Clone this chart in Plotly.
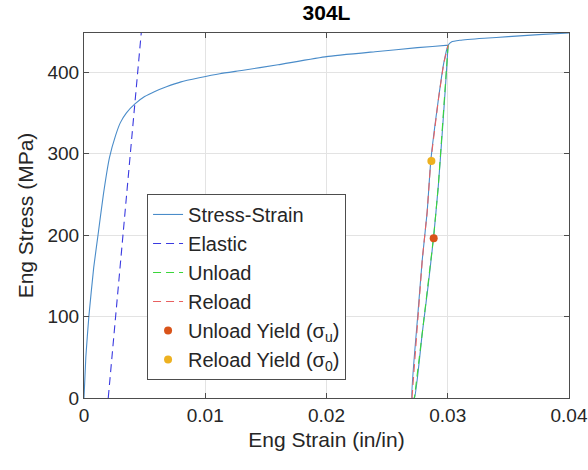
import plotly.graph_objects as go

# ---- data ----
load_strain = [0, 0.00015, 0.0004, 0.0008, 0.0012, 0.0016, 0.0021, 0.0026, 0.003,
               0.0035, 0.0042, 0.005, 0.0058, 0.0068, 0.008, 0.0095, 0.0112, 0.013,
               0.016, 0.02, 0.024, 0.0275, 0.03003]
load_stress = [0, 50, 100, 160, 205, 250, 295, 322, 338, 350, 361, 370, 376, 382,
               388, 393, 398, 402, 409, 419, 425, 430, 433]

unload_strain = [0.03003, 0.0298, 0.02952, 0.02922, 0.02885, 0.0284, 0.0279, 0.02725]
unload_stress = [433, 380, 320, 260, 200, 140, 80, 0]

reload_strain = [0.02705, 0.02752, 0.0279, 0.0283, 0.0286, 0.02926, 0.02967, 0.03003]
reload_stress = [0, 100, 170, 228, 291, 370, 411, 433]

post_strain = [0.0303, 0.031, 0.033, 0.035, 0.0375, 0.04]
post_stress = [437, 439, 441.5, 443.5, 446, 448]

elastic_strain = [0.002, 0.00472]
elastic_stress = [0, 448]

unload_yield_strain = [0.02884]
unload_yield_stress = [196]
reload_yield_strain = [0.02865]
reload_yield_stress = [291]

x_ticks = [0, 0.01, 0.02, 0.03, 0.04]
x_tick_labels = ["0", "0.01", "0.02", "0.03", "0.04"]
y_ticks = [0, 100, 200, 300, 400]
y_tick_labels = ["0", "100", "200", "300", "400"]

# full measured path: load -> unload -> reload -> continue
ss_strain = load_strain + unload_strain + reload_strain + post_strain
ss_stress = load_stress + unload_stress + reload_stress + post_stress

FONT = "Liberation Sans, Arial, Helvetica, sans-serif"
TXT = "#262626"

fig = go.Figure()
fig.add_trace(go.Scatter(x=ss_strain, y=ss_stress, mode="lines", name="Stress-Strain",
                         line=dict(color="#4a8cc9", width=1.1, shape="spline", smoothing=0.4),
                         legendgroup="a"))
fig.add_trace(go.Scatter(x=elastic_strain, y=elastic_stress, mode="lines", name="Elastic",
                         line=dict(color="#3a3ae0", width=1.1, dash="8px,5px"), legendgroup="b"))
fig.add_trace(go.Scatter(x=unload_strain, y=unload_stress, mode="lines", name="Unload",
                         line=dict(color="#3ad63a", width=1.1, dash="8px,5px"), legendgroup="c"))
fig.add_trace(go.Scatter(x=reload_strain, y=reload_stress, mode="lines", name="Reload",
                         line=dict(color="#e86060", width=1.1, dash="8px,5px"), legendgroup="d"))
fig.add_trace(go.Scatter(x=unload_yield_strain, y=unload_yield_stress, mode="markers",
                         name="Unload Yield (σ<sub>u</sub>)",
                         marker=dict(color="#D95319", size=8), legendgroup="e"))
fig.add_trace(go.Scatter(x=reload_yield_strain, y=reload_yield_stress, mode="markers",
                         name="Reload Yield (σ<sub>0</sub>)",
                         marker=dict(color="#EDB120", size=8), legendgroup="f"))

axis_common = dict(showline=True, linecolor="#4d4d4d", linewidth=1, mirror="ticks",
                   ticks="inside", ticklen=5, tickcolor="#4d4d4d",
                   showgrid=True, gridcolor="#e3e3e3", gridwidth=1, zeroline=False,
                   tickfont=dict(family=FONT, size=19, color=TXT))

fig.update_xaxes(range=[0, 0.04], tickvals=x_ticks, ticktext=x_tick_labels,
                 title=dict(text="Eng Strain (in/in)", font=dict(family=FONT, size=21, color=TXT),
                            standoff=7),
                 **axis_common)
fig.update_yaxes(range=[0, 448], tickvals=y_ticks, ticktext=y_tick_labels,
                 title=dict(text="Eng Stress (MPa)", font=dict(family=FONT, size=21, color=TXT),
                            standoff=8),
                 **axis_common)

fig.update_layout(
    width=588, height=470,
    margin=dict(l=84, r=19, t=33, b=72, autoexpand=False),
    paper_bgcolor="white", plot_bgcolor="white",
    title=dict(text="<b>304L</b>", x=(84 + 569) / 2 / 588, xanchor="center",
               y=1 - 13 / 470, yanchor="middle",
               font=dict(family=FONT, size=21, color="#000000")),
    legend=dict(x=0.13, y=0.559, xanchor="left", yanchor="top",
                bgcolor="white", bordercolor="#4d4d4d", borderwidth=1,
                font=dict(family=FONT, size=20, color=TXT),
                traceorder="grouped", tracegroupgap=0, itemwidth=30),
    showlegend=True,
)

fig.write_html("out.html")
